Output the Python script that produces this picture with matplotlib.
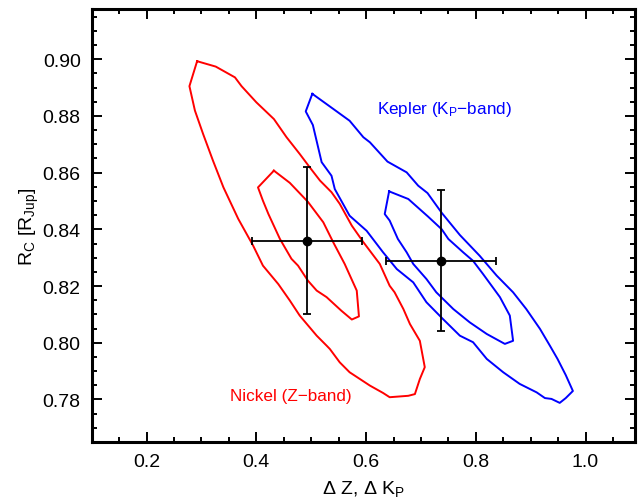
import numpy as np
import matplotlib
matplotlib.use("Agg")
import matplotlib.pyplot as plt
from matplotlib.ticker import MultipleLocator

plt.rcParams["font.family"] = ["Liberation Sans", "DejaVu Sans"]
plt.rcParams["mathtext.fontset"] = "custom"
plt.rcParams["mathtext.rm"] = "Liberation Sans"
plt.rcParams["mathtext.it"] = "Liberation Sans:italic"

# confidence contours
nickel_outer_x = [0.292, 0.326, 0.361, 0.373, 0.400, 0.432, 0.455, 0.479, 0.498, 0.516, 0.537, 0.552,
                  0.574, 0.595, 0.625, 0.643, 0.652, 0.668, 0.680, 0.698, 0.707, 0.698, 0.689, 0.677,
                  0.643, 0.631, 0.607, 0.570, 0.552, 0.534, 0.528, 0.510, 0.479, 0.461, 0.440, 0.412,
                  0.394, 0.367, 0.340, 0.321, 0.303, 0.288, 0.278, 0.292]
nickel_outer_y = [0.8993, 0.8974, 0.8936, 0.8905, 0.8848, 0.8789, 0.8725, 0.8666, 0.8617, 0.8572, 0.8531, 0.8490,
                  0.8413, 0.8355, 0.8278, 0.8201, 0.8178, 0.8119, 0.8066, 0.8007, 0.7914, 0.7872, 0.7819, 0.7813,
                  0.7808, 0.7823, 0.7849, 0.7896, 0.7931, 0.7978, 0.7990, 0.8025, 0.8096, 0.8149, 0.8207, 0.8272,
                  0.8343, 0.8437, 0.8548, 0.8642, 0.8736, 0.8819, 0.8905, 0.8993]

nickel_inner_x = [0.432, 0.403, 0.412, 0.422, 0.443, 0.464, 0.476, 0.494, 0.510, 0.528, 0.555, 0.574,
                  0.587, 0.583, 0.561, 0.540, 0.522, 0.494, 0.461, 0.432]
nickel_inner_y = [0.8607, 0.8548, 0.8501, 0.8454, 0.8366, 0.8296, 0.8272, 0.8219, 0.8184, 0.8161, 0.8113, 0.8082,
                  0.8093, 0.8184, 0.8278, 0.8355, 0.8425, 0.8497, 0.8564, 0.8607]

kepler_outer_x = [0.502, 0.540, 0.570, 0.595, 0.607, 0.639, 0.674, 0.695, 0.712, 0.738, 0.771, 0.807,
                  0.838, 0.868, 0.892, 0.917, 0.935, 0.949, 0.964, 0.977, 0.964, 0.953, 0.938, 0.926,
                  0.911, 0.880, 0.850, 0.820, 0.795, 0.771, 0.740, 0.710, 0.686, 0.656, 0.631, 0.601,
                  0.570, 0.543, 0.537, 0.519, 0.503, 0.490, 0.502]
kepler_outer_y = [0.8878, 0.8825, 0.8783, 0.8725, 0.8707, 0.8639, 0.8601, 0.8554, 0.8528, 0.8458, 0.8380, 0.8307,
                  0.8237, 0.8178, 0.8119, 0.8049, 0.7990, 0.7943, 0.7886, 0.7830, 0.7805, 0.7788, 0.7802, 0.7805,
                  0.7825, 0.7855, 0.7896, 0.7943, 0.8002, 0.8025, 0.8084, 0.8143, 0.8213, 0.8260, 0.8319, 0.8395,
                  0.8448, 0.8542, 0.8589, 0.8637, 0.8768, 0.8816, 0.8878]

kepler_inner_x = [0.642, 0.677, 0.713, 0.738, 0.750, 0.777, 0.795, 0.813, 0.844, 0.862, 0.868, 0.853,
                  0.820, 0.789, 0.759, 0.728, 0.710, 0.686, 0.674, 0.658, 0.643, 0.634, 0.642]
kepler_inner_y = [0.8534, 0.8507, 0.8445, 0.8400, 0.8366, 0.8319, 0.8289, 0.8243, 0.8161, 0.8096, 0.8007, 0.7996,
                  0.8031, 0.8072, 0.8119, 0.8178, 0.8225, 0.8278, 0.8319, 0.8366, 0.8431, 0.8454, 0.8534]

# best-fit points with asymmetric errors
pt_x = [0.492, 0.736]
pt_y = [0.836, 0.829]
pt_xerr_lo = [0.100, 0.100]
pt_xerr_hi = [0.101, 0.100]
pt_yerr_lo = [0.026, 0.025]
pt_yerr_hi = [0.026, 0.025]

fig = plt.figure(figsize=(6.4, 5.02), dpi=100)
ax = fig.add_axes([0.1434, 0.1175, 0.8486, 0.8625])

ax.plot(nickel_outer_x, nickel_outer_y, color="red", lw=1.4)
ax.plot(nickel_inner_x, nickel_inner_y, color="red", lw=1.4)
ax.plot(kepler_outer_x, kepler_outer_y, color="blue", lw=1.4)
ax.plot(kepler_inner_x, kepler_inner_y, color="blue", lw=1.4)

ax.errorbar(pt_x, pt_y, xerr=[pt_xerr_lo, pt_xerr_hi], yerr=[pt_yerr_lo, pt_yerr_hi],
            fmt="o", color="black", ms=6, elinewidth=1.3, capsize=3, capthick=1.3)

ax.text(0.462, 0.7813, "Nickel (Z\u2212band)", color="red", fontsize=12.3, ha="center", va="center")
ax.text(0.742, 0.8825, "Kepler (K$_{\\rm P}$\u2212band)", color="blue", fontsize=12.3, ha="center", va="center")

ax.set_xlim(0.1, 1.09)
ax.set_ylim(0.765, 0.9177)
ax.xaxis.set_major_locator(MultipleLocator(0.2))
ax.xaxis.set_minor_locator(MultipleLocator(0.05))
ax.yaxis.set_major_locator(MultipleLocator(0.02))
ax.yaxis.set_minor_locator(MultipleLocator(0.005))
ax.xaxis.set_major_formatter(matplotlib.ticker.FormatStrFormatter("%.1f"))
ax.yaxis.set_major_formatter(matplotlib.ticker.FormatStrFormatter("%.2f"))

ax.tick_params(which="both", direction="in", top=True, right=True, labelsize=14, width=1.4)
ax.tick_params(which="major", length=7, pad=8)
ax.tick_params(which="minor", length=3.6)
for s in ax.spines.values():
    s.set_linewidth(2.2)

ax.set_xlabel("\u0394 Z, \u0394 K$_{\\rm P}$", fontsize=14, labelpad=6)
ax.set_ylabel("R$_{\\rm C}$ [R$_{\\rm Jup}$]", fontsize=14, labelpad=1)

fig.savefig("out.png", dpi=100)
